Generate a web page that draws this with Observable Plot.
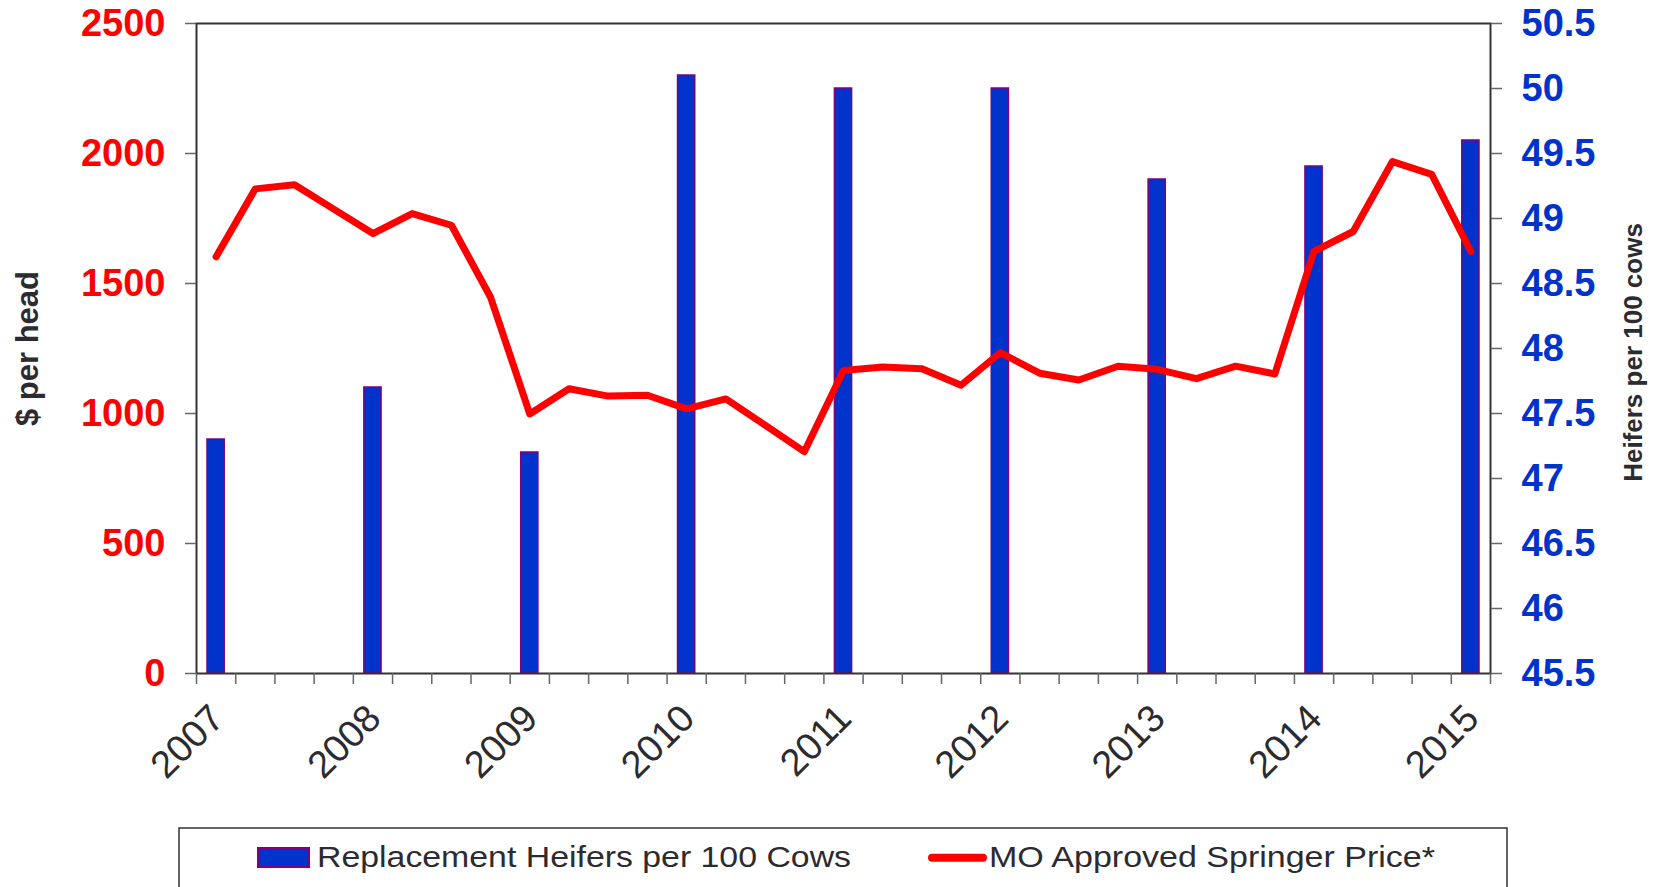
<!DOCTYPE html>
<html><head><meta charset="utf-8">
<script src="https://cdn.jsdelivr.net/npm/d3@7"></script>
<script src="https://cdn.jsdelivr.net/npm/@observablehq/plot@0.6"></script>
<style>
html,body{margin:0;padding:0;background:#fff;}
body{width:1655px;height:887px;overflow:hidden;font-family:"Liberation Sans",Arial,Helvetica,sans-serif;}
#chart svg,#legend svg{display:block;}
</style></head><body>
<div id="chart"></div>
<div id="legend"></div>
<script>
// ---- data ----
const quarters = [
  "2007 Q1","2007 Q2","2007 Q3","2007 Q4",
  "2008 Q1","2008 Q2","2008 Q3","2008 Q4",
  "2009 Q1","2009 Q2","2009 Q3","2009 Q4",
  "2010 Q1","2010 Q2","2010 Q3","2010 Q4",
  "2011 Q1","2011 Q2","2011 Q3","2011 Q4",
  "2012 Q1","2012 Q2","2012 Q3","2012 Q4",
  "2013 Q1","2013 Q2","2013 Q3","2013 Q4",
  "2014 Q1","2014 Q2","2014 Q3","2014 Q4",
  "2015 Q1"
];
const price = [
  1603, 1864, 1880, 1786,
  1692, 1769, 1724, 1447,
  998, 1095, 1067, 1070,
  1018, 1056, 955, 853,
  1165, 1179, 1172, 1109,
  1234, 1155, 1129, 1182,
  1170, 1134, 1182, 1152,
  1624, 1700, 1969, 1920,
  1623
];
const years = ["2007","2008","2009","2010","2011","2012","2013","2014","2015"];
const heifers = [47.3, 47.7, 47.2, 50.1, 50.0, 50.0, 49.3, 49.4, 49.6];
const priceTicks = [0, 500, 1000, 1500, 2000, 2500];
const heiferTicks = [45.5, 46, 46.5, 47, 47.5, 48, 48.5, 49, 49.5, 50, 50.5];
const seriesNames = ["Replacement Heifers per 100 Cows", "MO Approved Springer Price*"];
const axisTitles = ["$ per head", "Heifers per 100 cows"];

// ---- scales mapping (right axis onto left axis range) ----
const hMin = heiferTicks[0], hMax = heiferTicks[heiferTicks.length - 1];
const pMax = priceTicks[priceTicks.length - 1];
const toPrice = h => (h - hMin) / (hMax - hMin) * pMax;
const toHeifer = p => +(p / pMax * (hMax - hMin) + hMin).toFixed(1);

const priceData = quarters.map((q, i) => ({q, i, v: price[i]}));
const heiferData = years.map((y, k) => ({year: y, i: quarters.indexOf(y + " Q1"), v: heifers[k]}));

const FONT = '"Liberation Sans", Arial, Helvetica, sans-serif';
const BLUE = "#0033cc", PURPLE = "#800080", RED = "#ff0000", DARK = "#2b2b30";

const chart = Plot.plot({
  width: 1655, height: 820,
  marginTop: 23, marginBottom: 147, marginLeft: 196, marginRight: 165,
  x: {domain: [0, quarters.length], axis: null, label: null},
  y: {domain: [0, pMax], axis: null, label: null},
  style: {fontFamily: FONT, background: "#fff", overflow: "visible"},
  marks: [
    Plot.rectY(heiferData, {
      x1: d => d.i, x2: d => d.i + 1, y1: 0, y2: d => toPrice(d.v),
      insetLeft: 11, insetRight: 11,
      fill: BLUE, stroke: PURPLE, strokeWidth: 1.5
    }),
    Plot.line(priceData, {
      x: d => d.i + 0.5, y: "v",
      stroke: RED, strokeWidth: 7, strokeLinejoin: "round", strokeLinecap: "round"
    }),
    Plot.frame({stroke: "#333", strokeWidth: 2}),
    Plot.axisY(priceTicks, {
      anchor: "left", tickSize: 11, tickPadding: 20, label: null,
      stroke: "#666", strokeWidth: 1.5, fill: RED, fontSize: 38, fontWeight: "bold",
      tickFormat: d => String(d)
    }),
    Plot.axisY(heiferTicks.map(toPrice), {
      anchor: "right", tickSize: 11, tickPadding: 20, label: null,
      stroke: "#666", strokeWidth: 1.5, fill: BLUE, fontSize: 38, fontWeight: "bold",
      tickFormat: d => String(toHeifer(d))
    }),
    Plot.axisX(d3.range(0, quarters.length + 1), {
      anchor: "bottom", tickSize: 11, label: null,
      stroke: "#666", strokeWidth: 1.5, tickFormat: () => ""
    }),
    Plot.text(heiferData, {
      x: d => d.i + 0.5, text: "year", frameAnchor: "bottom",
      dx: 10, dy: 47, rotate: -45, textAnchor: "end", lineAnchor: "bottom",
      fontSize: 38, fill: DARK
    }),
    Plot.text([axisTitles[0]], {
      text: d => d, frameAnchor: "left", textAnchor: "middle", dx: -168, rotate: -90,
      fontSize: 31, fontWeight: "bold", fill: DARK
    }),
    Plot.text([axisTitles[1]], {
      text: d => d, frameAnchor: "right", textAnchor: "middle", dx: 143, dy: 4, rotate: -90,
      fontSize: 26, fontWeight: "bold", fill: DARK
    })
  ]
});
document.getElementById("chart").appendChild(chart);

// ---- legend ----
const lg = d3.select("#legend").append("svg")
  .attr("width", 1655).attr("height", 67)
  .style("font-family", FONT);
lg.append("rect").attr("x", 179).attr("y", 8).attr("width", 1328).attr("height", 100)
  .attr("fill", "#fff").attr("stroke", "#333").attr("stroke-width", 1.5);
lg.append("rect").attr("x", 258).attr("y", 28).attr("width", 51).attr("height", 19)
  .attr("fill", BLUE).attr("stroke", PURPLE).attr("stroke-width", 2);
lg.append("text").attr("x", 317).attr("y", 46.7).attr("font-size", 29).attr("fill", DARK)
  .attr("textLength", 534).attr("lengthAdjust", "spacingAndGlyphs").text(seriesNames[0]);
lg.append("line").attr("x1", 932).attr("x2", 983).attr("y1", 37.7).attr("y2", 37.7)
  .attr("stroke", RED).attr("stroke-width", 8).attr("stroke-linecap", "round");
lg.append("text").attr("x", 989).attr("y", 46.7).attr("font-size", 29).attr("fill", DARK)
  .attr("textLength", 446).attr("lengthAdjust", "spacingAndGlyphs").text(seriesNames[1]);
</script>
</body></html>
